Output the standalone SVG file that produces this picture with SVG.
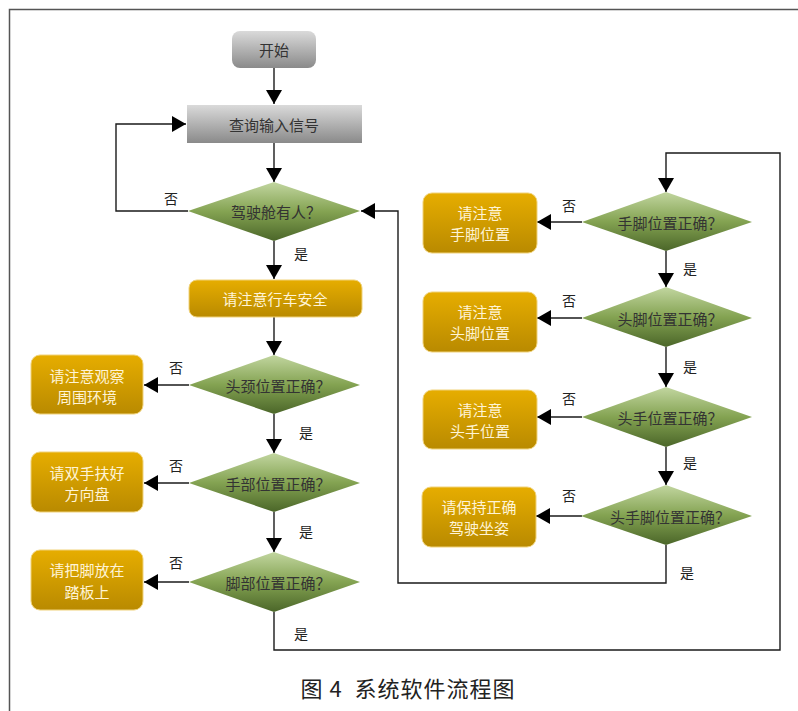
<svg xmlns="http://www.w3.org/2000/svg" width="798" height="711" viewBox="0 0 798 711">
<style>
text{font-family:"Noto Sans CJK SC","Liberation Serif",serif;text-anchor:middle;dominant-baseline:central}
.nt{font-size:15px;fill:#333}
.ot{font-size:15px;fill:#fff4d6}
.lb{font-size:14px;fill:#222}
.cn{fill:none;stroke:#1a1a1a;stroke-width:1.4}
.or{fill:url(#gO);stroke:#f0d27a;stroke-width:1}
.dm{fill:url(#gG)}
.gr{fill:url(#gY)}
</style>
<defs>
<linearGradient id="gO" x1="0" y1="0" x2="0" y2="1"><stop offset="0" stop-color="#e6ad00"/><stop offset="1" stop-color="#b98a00"/></linearGradient>
<linearGradient id="gG" x1="0" y1="0" x2="0" y2="1"><stop offset="0" stop-color="#c2d6a0"/><stop offset="0.5" stop-color="#84a352"/><stop offset="1" stop-color="#4b6629"/></linearGradient>
<linearGradient id="gY" x1="0" y1="0" x2="0" y2="1"><stop offset="0" stop-color="#dadada"/><stop offset="1" stop-color="#8a8a8a"/></linearGradient>
<marker id="ah" markerUnits="userSpaceOnUse" markerWidth="15" markerHeight="16" refX="14" refY="8" orient="auto"><path d="M0,0 L14,8 L0,16 z" fill="#000"/></marker>
</defs>
<rect width="798" height="711" fill="#fff"/>
<path d="M9.5,711 V9.5 H798" fill="none" stroke="#555" stroke-width="1.5"/>

<g id="connectors">
<path class="cn" d="M274,68 V104" marker-end="url(#ah)"/>
<path class="cn" d="M274,143 V182" marker-end="url(#ah)"/>
<path class="cn" d="M188,211 H116 V124 H186" marker-end="url(#ah)"/>
<path class="cn" d="M274,241 V279" marker-end="url(#ah)"/>
<path class="cn" d="M274,317 V355" marker-end="url(#ah)"/>
<path class="cn" d="M189,385 H144" marker-end="url(#ah)"/>
<path class="cn" d="M274,414 V453" marker-end="url(#ah)"/>
<path class="cn" d="M189,483 H144" marker-end="url(#ah)"/>
<path class="cn" d="M274,512 V552" marker-end="url(#ah)"/>
<path class="cn" d="M189,582 H144" marker-end="url(#ah)"/>
<path class="cn" d="M274,612 V650 H780 V153 H666 V192" marker-end="url(#ah)"/>
<path class="cn" d="M582,222 H537" marker-end="url(#ah)"/>
<path class="cn" d="M666,251 V287" marker-end="url(#ah)"/>
<path class="cn" d="M582,318 H537" marker-end="url(#ah)"/>
<path class="cn" d="M666,347 V387" marker-end="url(#ah)"/>
<path class="cn" d="M582,417 H537" marker-end="url(#ah)"/>
<path class="cn" d="M666,447 V485" marker-end="url(#ah)"/>
<path class="cn" d="M582,516 H536" marker-end="url(#ah)"/>
<path class="cn" d="M666,545 V583 H398 V211 H361" marker-end="url(#ah)"/>
<text class="lb" x="171" y="198">否</text>
<text class="lb" x="301" y="253">是</text>
<text class="lb" x="176" y="367">否</text>
<text class="lb" x="306" y="432">是</text>
<text class="lb" x="176" y="465">否</text>
<text class="lb" x="306" y="531">是</text>
<text class="lb" x="176" y="562">否</text>
<text class="lb" x="301" y="633">是</text>
<text class="lb" x="569" y="205">否</text>
<text class="lb" x="690" y="268">是</text>
<text class="lb" x="569" y="300">否</text>
<text class="lb" x="690" y="366">是</text>
<text class="lb" x="569" y="398">否</text>
<text class="lb" x="690" y="462">是</text>
<text class="lb" x="569" y="495">否</text>
<text class="lb" x="687" y="572">是</text>
</g>

<g id="start"><rect class="gr" x="232" y="31" width="84" height="37" rx="8"/><text class="nt" x="274" y="49">开始</text></g>
<g id="query"><rect class="gr" x="187" y="105" width="175" height="38"/><text class="nt" x="274" y="124">查询输入信号</text></g>
<g id="d1"><polygon class="dm" points="274,182 360,211 274,241 188,211"/><text class="nt" x="276" y="211">驾驶舱有人？</text></g>
<g id="safe"><rect class="or" x="189" y="280" width="173" height="37" rx="8"/><text class="ot" x="275" y="298">请注意行车安全</text></g>
<g id="d2"><polygon class="dm" points="274,355 360,385 274,414 189,385"/><text class="nt" x="278" y="385">头颈位置正确？</text></g>
<g id="n2"><rect class="or" x="31" y="355" width="112" height="59" rx="9"/><text class="ot" x="87" y="375">请注意观察</text><text class="ot" x="87" y="396">周围环境</text></g>
<g id="d3"><polygon class="dm" points="274,453 360,483 274,512 189,483"/><text class="nt" x="278" y="483">手部位置正确？</text></g>
<g id="n3"><rect class="or" x="31" y="452" width="112" height="60" rx="9"/><text class="ot" x="87" y="472">请双手扶好</text><text class="ot" x="87" y="493">方向盘</text></g>
<g id="d4"><polygon class="dm" points="274,552 360,582 274,612 189,582"/><text class="nt" x="278" y="582">脚部位置正确？</text></g>
<g id="n4"><rect class="or" x="31" y="550" width="112" height="60" rx="9"/><text class="ot" x="87" y="569">请把脚放在</text><text class="ot" x="87" y="591">踏板上</text></g>

<g id="r1"><polygon class="dm" points="666,192 752,222 666,251 582,222"/><text class="nt" x="670" y="222">手脚位置正确？</text></g>
<g id="m1"><rect class="or" x="423" y="193" width="114" height="60" rx="9"/><text class="ot" x="480" y="212">请注意</text><text class="ot" x="480" y="233">手脚位置</text></g>
<g id="r2"><polygon class="dm" points="666,287 752,318 666,347 582,318"/><text class="nt" x="670" y="318">头脚位置正确？</text></g>
<g id="m2"><rect class="or" x="423" y="292" width="114" height="60" rx="9"/><text class="ot" x="480" y="311">请注意</text><text class="ot" x="480" y="332">头脚位置</text></g>
<g id="r3"><polygon class="dm" points="666,387 752,417 666,447 582,417"/><text class="nt" x="670" y="417">头手位置正确？</text></g>
<g id="m3"><rect class="or" x="423" y="390" width="114" height="59" rx="9"/><text class="ot" x="480" y="409">请注意</text><text class="ot" x="480" y="430">头手位置</text></g>
<g id="r4"><polygon class="dm" points="666,485 752,516 666,545 581,516"/><text class="nt" x="670" y="516">头手脚位置正确？</text></g>
<g id="m4"><rect class="or" x="422" y="487" width="114" height="60" rx="9"/><text class="ot" x="479" y="506">请保持正确</text><text class="ot" x="479" y="527">驾驶坐姿</text></g>

<text x="408" y="687" xml:space="preserve" style="font-size:22px;fill:#222;letter-spacing:1px">图 4  系统软件流程图</text>
</svg>
